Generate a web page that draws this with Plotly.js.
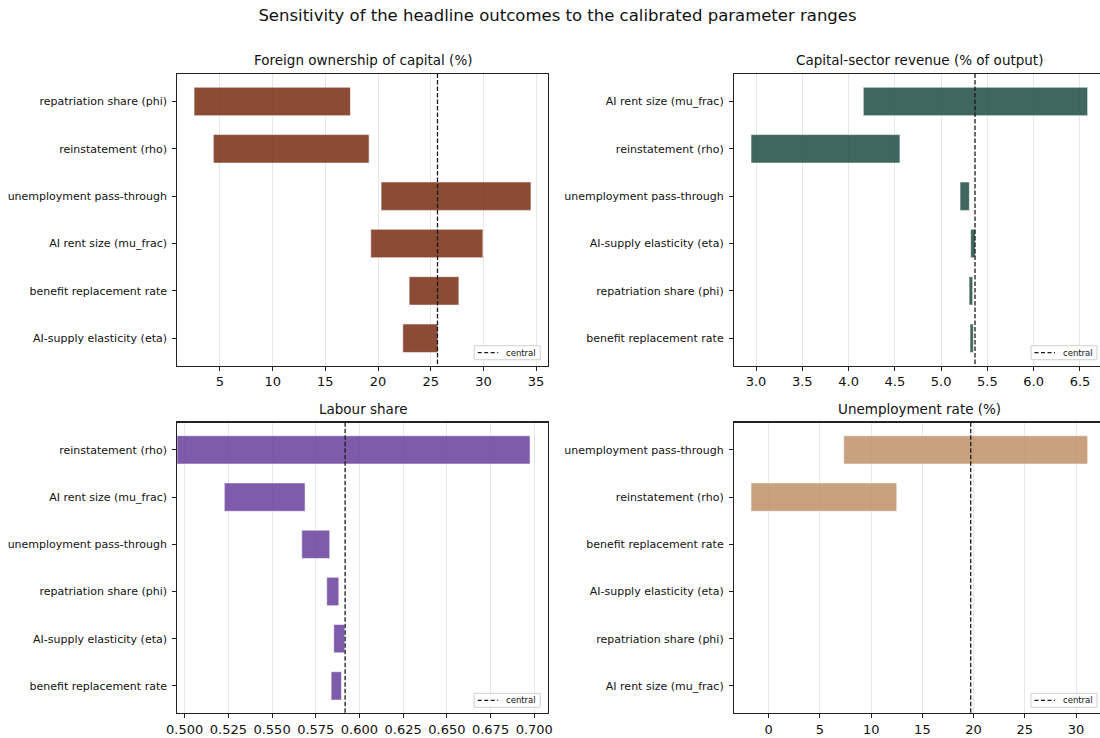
<!DOCTYPE html>
<html>
<head>
<meta charset="utf-8">
<script src="https://cdn.plot.ly/plotly-3.0.1.min.js"></script>
<style>
html,body{margin:0;padding:0;overflow:hidden;background:#fff;width:1100px;height:738px;}
#chart{width:1106px;height:738px;}
</style>
</head>
<body>
<div id="chart"></div>
<script>
// ---------- data ----------
const figureTitle = 'Sensitivity of the headline outcomes to the calibrated parameter ranges';

const foreignTitle = 'Foreign ownership of capital (%)';
const foreignParams = ['repatriation share (phi)', 'reinstatement (rho)', 'unemployment pass-through', 'AI rent size (mu_frac)', 'benefit replacement rate', 'AI-supply elasticity (eta)'];
const foreignLow  = [2.54, 4.37, 20.29, 19.31, 22.95, 22.35];
const foreignHigh = [17.38, 19.15, 34.51, 29.95, 27.67, 25.68];
const foreignCentral = 25.64;
const foreignTicks = [5, 10, 15, 20, 25, 30, 35];

const revenueTitle = 'Capital-sector revenue (% of output)';
const revenueParams = ['AI rent size (mu_frac)', 'reinstatement (rho)', 'unemployment pass-through', 'AI-supply elasticity (eta)', 'repatriation share (phi)', 'benefit replacement rate'];
const revenueLow  = [4.159, 2.946, 5.204, 5.319, 5.302, 5.312];
const revenueHigh = [6.583, 4.555, 5.305, 5.369, 5.341, 5.348];
const revenueCentral = 5.366;
const revenueTicks = [3.0, 3.5, 4.0, 4.5, 5.0, 5.5, 6.0, 6.5];

const labourTitle = 'Labour share';
const labourParams = ['reinstatement (rho)', 'AI rent size (mu_frac)', 'unemployment pass-through', 'repatriation share (phi)', 'AI-supply elasticity (eta)', 'benefit replacement rate'];
const labourLow  = [0.4950, 0.5227, 0.5670, 0.5813, 0.5853, 0.5838];
const labourHigh = [0.6976, 0.5689, 0.5830, 0.5882, 0.5916, 0.5897];
const labourCentral = 0.5918;
const labourTicks = [0.500, 0.525, 0.550, 0.575, 0.600, 0.625, 0.650, 0.675, 0.700];

const unempTitle = 'Unemployment rate (%)';
const unempParams = ['unemployment pass-through', 'reinstatement (rho)', 'benefit replacement rate', 'AI-supply elasticity (eta)', 'repatriation share (phi)', 'AI rent size (mu_frac)'];
const unempLow  = [7.32, -1.73, 19.72, 19.72, 19.72, 19.72];
const unempHigh = [31.14, 12.50, 19.72, 19.72, 19.72, 19.72];
const unempCentral = 19.72;
const unempTicks = [0, 5, 10, 15, 20, 25, 30];

const centralLabel = 'central';

// ---------- layout helpers ----------
const W = 1106, H = 738;
const FONT = 'DejaVu Sans, Liberation Sans, sans-serif';
const fx = px => px / W;          // pixel -> paper x
const fy = py => 1 - py / H;      // pixel -> paper y

const panels = [
  {title: foreignTitle, params: foreignParams, low: foreignLow, high: foreignHigh, central: foreignCentral,
   ticks: foreignTicks, fmt: v => String(v), color: 'rgba(119,43,16,0.85)', range: [0.95, 36.1],
   px: [177.3, 547.7], py: [74, 365.7]},
  {title: revenueTitle, params: revenueParams, low: revenueLow, high: revenueHigh, central: revenueCentral,
   ticks: revenueTicks, fmt: v => v.toFixed(1), color: 'rgba(29,76,66,0.85)', range: [2.762, 6.765],
   px: [734, 1104.5], py: [74, 365.7]},
  {title: labourTitle, params: labourParams, low: labourLow, high: labourHigh, central: labourCentral,
   ticks: labourTicks, fmt: v => v.toFixed(3), color: 'rgba(104,62,156,0.85)', range: [0.4958, 0.7077],
   px: [177.3, 547.7], py: [422.5, 713.3]},
  {title: unempTitle, params: unempParams, low: unempLow, high: unempHigh, central: unempCentral,
   ticks: unempTicks, fmt: v => String(v), color: 'rgba(190,146,104,0.85)', range: [-3.39, 32.78],
   px: [734, 1104.5], py: [422.5, 713.3]}
];

const traces = [];
const layout = {
  width: W, height: H,
  margin: {l: 0, r: 0, t: 0, b: 0},
  paper_bgcolor: '#fff', plot_bgcolor: '#fff',
  font: {family: FONT, color: '#111'},
  bargap: 0,
  showlegend: false,
  annotations: [],
  shapes: [],
  title: {text: figureTitle, x: fx(557.5), xanchor: 'center', y: fy(15.5), yanchor: 'middle',
          font: {family: FONT, size: 16.5, color: '#111'}}
};

panels.forEach((p, i) => {
  const n = i + 1;
  const xa = 'x' + (n === 1 ? '' : n), ya = 'y' + (n === 1 ? '' : n);
  const xk = 'xaxis' + (n === 1 ? '' : n), yk = 'yaxis' + (n === 1 ? '' : n);
  const idx = p.params.map((_, j) => j);

  traces.push({
    type: 'bar', orientation: 'h',
    y: idx, base: p.low, x: p.high.map((h, j) => h - p.low[j]),
    width: 0.6,
    marker: {color: p.color,
             line: {color: 'rgba(255,255,255,0.55)', width: p.high.map((h, j) => (h - p.low[j]) > 0 ? 1 : 0)}},
    xaxis: xa, yaxis: ya, showlegend: false, hoverinfo: 'skip'
  });
  traces.push({
    type: 'scatter', mode: 'lines',
    x: [p.central, p.central], y: [-1, p.params.length],
    line: {color: '#1a1a1a', width: 1.3, dash: '4.5px,2px'},
    name: centralLabel, xaxis: xa, yaxis: ya, showlegend: false, hoverinfo: 'skip'
  });

  layout[xk] = {
    domain: [fx(p.px[0]), fx(p.px[1])], anchor: ya,
    range: p.range, tickmode: 'array', tickvals: p.ticks, ticktext: p.ticks.map(p.fmt),
    showgrid: true, gridcolor: '#e6e6e6', gridwidth: 1,
    zeroline: false, showline: true, linecolor: '#222', linewidth: 1.1, mirror: true,
    ticks: 'outside', ticklen: 4, tickwidth: 1, tickcolor: '#222',
    tickfont: {family: FONT, size: 13, color: '#111'}
  };
  layout[yk] = {
    domain: [fy(p.py[1]), fy(p.py[0])], anchor: xa,
    range: [p.params.length - 0.42, -0.58], tickmode: 'array', tickvals: idx, ticktext: p.params,
    showgrid: false, zeroline: false, showline: true, linecolor: '#222', linewidth: 1.1, mirror: true,
    ticks: 'outside', ticklen: 4, tickwidth: 1, tickcolor: '#222', ticklabelstandoff: 3,
    tickfont: {family: FONT, size: 11, color: '#111'}
  };

  // subplot title
  layout.annotations.push({
    text: p.title, xref: 'paper', yref: 'paper',
    x: fx((p.px[0] + p.px[1]) / 2), y: fy(p.py[0]), xanchor: 'center', yanchor: 'bottom',
    yshift: 4, showarrow: false, font: {family: FONT, size: 13.5, color: '#111'}
  });

  // legend key (box, dashed sample, label) in lower-right corner of the panel
  const bx1 = p.px[1] - 7.5, bx0 = bx1 - 66;
  const by1 = p.py[1] - 6, by0 = by1 - 14;
  layout.shapes.push({
    type: 'rect', xref: 'paper', yref: 'paper',
    x0: fx(bx0), x1: fx(bx1), y0: fy(by1), y1: fy(by0),
    fillcolor: 'rgba(255,255,255,0.85)', line: {color: '#d0d0d0', width: 1}, layer: 'above'
  });
  layout.shapes.push({
    type: 'line', xref: 'paper', yref: 'paper',
    x0: fx(bx0 + 3.5), x1: fx(bx0 + 24), y0: fy((by0 + by1) / 2), y1: fy((by0 + by1) / 2),
    line: {color: '#1a1a1a', width: 1.3, dash: '4px,2.5px'}, layer: 'above'
  });
  layout.annotations.push({
    text: centralLabel, xref: 'paper', yref: 'paper',
    x: fx(bx0 + 30), y: fy((by0 + by1) / 2), xanchor: 'left', yanchor: 'middle',
    showarrow: false, font: {family: FONT, size: 8.5, color: '#111'}
  });
});

Plotly.newPlot('chart', traces, layout, {displayModeBar: false, staticPlot: true});
</script>
</body>
</html>
